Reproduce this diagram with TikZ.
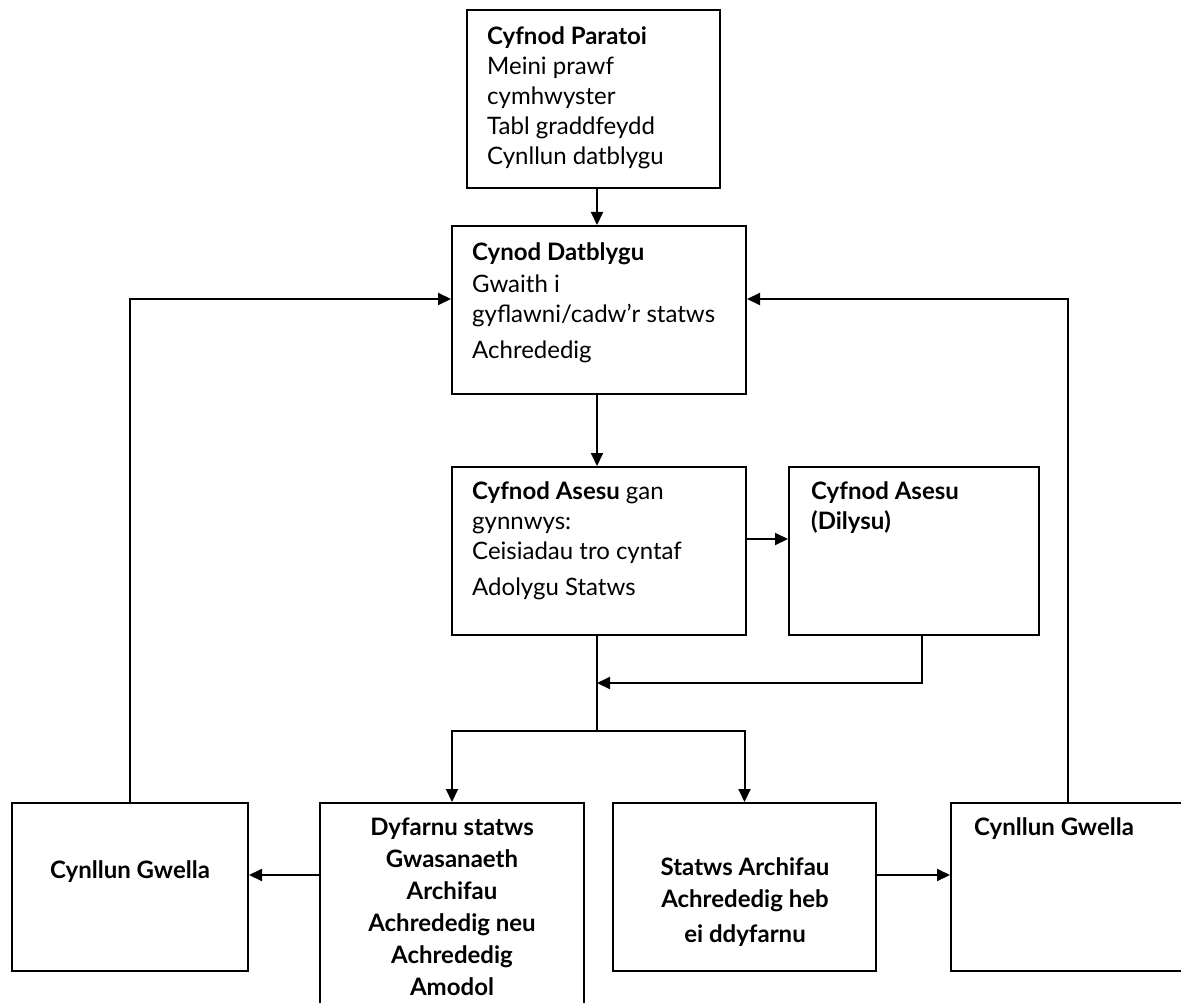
\documentclass[tikz,border=0pt]{standalone}
\usepackage{fontspec}
\setmainfont{Lato}
\usetikzlibrary{arrows.meta, positioning, calc}

\begin{document}
\begin{tikzpicture}[x=1pt, y=-1pt, font=\fontsize{24}{30}\selectfont,
  box/.style={draw, line width=2pt, inner sep=0pt},
  txt/.style={inner sep=0pt, align=left},
  ctxt/.style={inner sep=0pt, align=center, font=\fontsize{24}{32}\selectfont\bfseries},
  arr/.style={line width=2pt, -{Triangle[length=13pt, width=12pt]}},
  link/.style={line width=2pt},
  back/.style={line width=1.4pt}]
\useasboundingbox (0,0) rectangle (1181,1003);

% boxes
\node[box, minimum width=253pt, minimum height=178pt] (parat) at (593.5,99) {};
\node[box, minimum width=294pt, minimum height=168pt] (datb) at (599,310) {};
\node[box, minimum width=294pt, minimum height=168pt] (ases) at (599,551) {};
\node[box, minimum width=250pt, minimum height=168pt] (dily) at (914,551) {};
\node[box, minimum width=236pt, minimum height=168pt] (gwL) at (130,887) {};
\node[box, minimum width=264pt, minimum height=237pt] (dyf) at (452,921.5) {};
\node[box, minimum width=263pt, minimum height=168pt] (stat) at (744.5,887) {};
\node[box, minimum width=234pt, minimum height=168pt] (gwR) at (1068,887) {};

% texts
\node[txt, anchor=north west] (paratT) at ($(parat.north west)+(21,17)$)
  {\textbf{Cyfnod Paratoi}\\Meini prawf\\cymhwyster\\Tabl graddfeydd\\Cynllun datblygu};
\node[txt, anchor=north west] (datbT) at ($(datb.north west)+(21,17)$)
  {\textbf{Cynod Datblygu}\\[2pt]Gwaith i\\gyflawni/cadw’r statws\\[6pt]Achrededig};
\node[txt, anchor=north west] (asesT) at ($(ases.north west)+(21,15)$)
  {\textbf{Cyfnod Asesu} gan\\gynnwys:\\Ceisiadau tro cyntaf\\[6pt]Adolygu Statws};
\node[txt, anchor=north west] (dilyT) at ($(dily.north west)+(23,15)$)
  {\textbf{Cyfnod Asesu}\\\textbf{(Dilysu)}};
\node[ctxt, anchor=base] (gwLT) at (130,878) {Cynllun Gwella};
\node[ctxt, anchor=north] (dyfT) at (452,818)
  {Dyfarnu statws\\Gwasanaeth\\Archifau\\Achrededig neu\\Achrededig\\Amodol};
\node[ctxt, anchor=north] (statT) at (745,857)
  {Statws Archifau\\Achrededig heb\\[3pt]ei ddyfarnu};
\node[txt, font=\fontsize{24}{30}\selectfont\bfseries, anchor=north west] (gwRT)
  at ($(gwR.north west)+(24,15)$) {Cynllun Gwella};

% connectors
\coordinate (axis) at (597,0);
\coordinate (merge) at (597,683);
\coordinate (split) at (597,731);
\coordinate (mid) at (0,875);
\draw[arr] (axis |- parat.south) -- (axis |- datb.north);
\draw[arr] (axis |- datb.south) -- (axis |- ases.north);
\draw[arr] ([yshift=12pt]ases.east) -- ([yshift=12pt]ases.east -| dily.west);
\draw[arr] ([xshift=8pt]dily.south) |- (merge);
\draw[link] (axis |- ases.south) -- (split);
\draw[arr] (split) -| (dyf.north);
\draw[arr] (split) -| (stat.north);
\draw[arr] (dyf.west |- mid) -- (gwL.east |- mid);
\draw[arr] (stat.east |- mid) -- (gwR.west |- mid);
\draw[back] (gwL.north) |- ([xshift=-40pt,yshift=11pt]datb.west);
\draw[arr] ([xshift=-40pt,yshift=11pt]datb.west) -- ([yshift=11pt]datb.west);
\draw[back] (gwR.north) |- ([xshift=40pt,yshift=11pt]datb.east);
\draw[arr] ([xshift=40pt,yshift=11pt]datb.east) -- ([yshift=11pt]datb.east);
\end{tikzpicture}
\end{document}
